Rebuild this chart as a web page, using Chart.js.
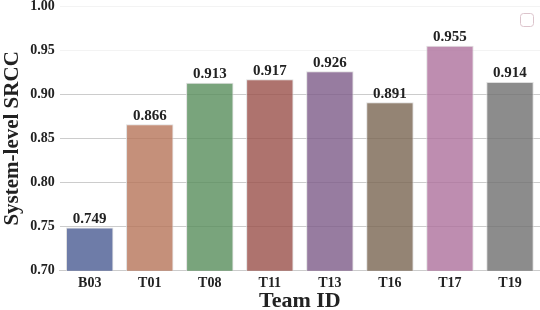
<!DOCTYPE html>
<html>
<head>
<meta charset="utf-8">
<script src="https://cdn.jsdelivr.net/npm/chart.js@4.4.0/dist/chart.umd.min.js"></script>
<style>
  html, body { margin: 0; padding: 0; background: #fff; }
  #wrap { width: 540px; height: 310px; }
</style>
</head>
<body>
<div id="wrap"><canvas id="chart" width="540" height="310"></canvas></div>
<script>
// data
const teams = ['B03', 'T01', 'T08', 'T11', 'T13', 'T16', 'T17', 'T19'];
const srcc = [0.749, 0.866, 0.913, 0.917, 0.926, 0.891, 0.955, 0.914];
const yTicks = [0.70, 0.75, 0.80, 0.85, 0.90, 0.95, 1.00];

const barColors = [
  'rgba(74,91,146,0.8)',
  'rgba(183,116,89,0.8)',
  'rgba(88,141,91,0.8)',
  'rgba(154,80,74,0.8)',
  'rgba(125,91,136,0.8)',
  'rgba(121,101,81,0.8)',
  'rgba(174,113,156,0.8)',
  'rgba(111,111,111,0.8)'
];

const serif = "'Liberation Serif', 'DejaVu Serif', serif";

// writes the value over each bar
const valueLabels = {
  id: 'valueLabels',
  afterDatasetsDraw(chart) {
    const ctx = chart.ctx;
    const meta = chart.getDatasetMeta(0);
    ctx.save();
    ctx.font = 'bold 15px ' + serif;
    ctx.fillStyle = '#222';
    ctx.textAlign = 'center';
    ctx.textBaseline = 'bottom';
    meta.data.forEach((bar, i) => {
      ctx.fillText(srcc[i].toFixed(3), bar.x, bar.y - 1);
    });
    ctx.restore();
  }
};

// the empty legend frame in the upper right corner
const emptyLegend = {
  id: 'emptyLegend',
  afterDraw(chart) {
    const ctx = chart.ctx;
    const a = chart.chartArea;
    ctx.save();
    ctx.strokeStyle = '#dcc4cc';
    ctx.lineWidth = 1;
    ctx.beginPath();
    ctx.roundRect(a.right - 19.5, a.top + 7.5, 13, 13, 3);
    ctx.stroke();
    ctx.restore();
  }
};

new Chart(document.getElementById('chart'), {
  type: 'bar',
  data: {
    labels: teams,
    datasets: [{
      label: '',
      data: srcc,
      backgroundColor: barColors,
      borderColor: 'rgba(220,220,220,0.9)',
      borderWidth: 1,
      categoryPercentage: 0.79,
      barPercentage: 1.0
    }]
  },
  options: {
    responsive: false,
    animation: false,
    layout: { padding: { top: 0, right: 0, left: 0, bottom: 0 } },
    plugins: {
      legend: { display: false },
      tooltip: { enabled: false }
    },
    scales: {
      x: {
        grid: { display: false, drawTicks: false },
        border: { display: true, color: '#cccccc', width: 1 },
        ticks: {
          color: '#222',
          font: { family: serif, size: 14, weight: 'bold' },
          padding: 4
        },
        title: {
          display: true,
          text: 'Team ID',
          color: '#222',
          font: { family: serif, size: 22, weight: 'bold' },
          padding: { top: -7, bottom: -5 }
        }
      },
      y: {
        min: 0.70,
        max: 1.00,
        afterBuildTicks: (axis) => { axis.ticks = yTicks.map(v => ({ value: v })); },
        afterFit: (axis) => { axis.paddingTop = 6; axis.paddingBottom = 0; },
        grid: {
          color: (c) => (c.tick && c.tick.value >= 0.949 ? '#f3f3f3' : '#cccccc'),
          lineWidth: 1,
          drawTicks: false
        },
        border: { display: false },
        ticks: {
          color: '#222',
          font: { family: serif, size: 14, weight: 'bold' },
          padding: 5,
          callback: (v) => Number(v).toFixed(2)
        },
        title: {
          display: true,
          text: 'System-level SRCC',
          color: '#222',
          font: { family: serif, size: 21, weight: 'bold' },
          padding: { top: 0, bottom: 0 }
        }
      }
    }
  },
  plugins: [valueLabels, emptyLegend]
});
</script>
</body>
</html>
